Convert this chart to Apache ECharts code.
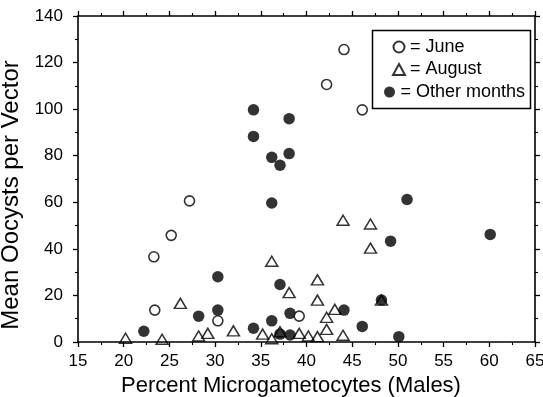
<!DOCTYPE html>
<html>
<head>
<meta charset="utf-8">
<script src="https://cdn.jsdelivr.net/npm/echarts@6/dist/echarts.min.js"></script>
<style>
  html, body { margin: 0; padding: 0; background: #fff; }
  #chart { width: 543px; height: 397px; }
</style>
</head>
<body>
<div id="chart"></div>
<script>
const juneX = [23.3, 23.4, 25.2, 27.2, 30.3, 39.2, 42.2, 44.1, 46.1];
const juneY = [36.6, 13.7, 45.8, 60.6, 9.1, 11.1, 110.6, 125.6, 99.7];

const augustX = [20.2, 24.2, 26.2, 28.2, 29.2, 32.0, 35.2, 36.2, 36.2, 37.1, 38.1, 39.2,
  40.2, 41.2, 41.2, 41.2, 42.2, 42.2, 43.1, 44.0, 44.0, 47.0, 47.0, 48.2];
const augustY = [1.6, 1.2, 16.6, 2.6, 3.7, 4.8, 3.4, 1.4, 34.7, 4.4, 21.2, 3.7,
  2.6, 26.7, 18.0, 2.3, 10.6, 5.4, 14.0, 52.3, 2.9, 50.7, 40.3, 18.0];

const otherX = [22.2, 28.2, 30.3, 30.3, 34.2, 34.2, 34.2, 36.2, 36.2, 36.2, 37.1, 37.1,
  37.1, 38.1, 38.1, 38.2, 38.2, 44.1, 46.1, 48.2, 49.2, 50.1, 51.0, 60.1];
const otherY = [4.6, 11.1, 28.0, 13.7, 99.7, 88.3, 5.9, 79.3, 59.7, 9.1, 75.9, 24.7,
  3.4, 95.9, 80.9, 12.3, 3.0, 13.7, 6.7, 18.0, 43.3, 2.3, 61.2, 46.2];

const xTicks = { min: 15, max: 65, step: 5 };
const yTicks = { min: 0, max: 140, step: 20 };

const pairs = (xs, ys) => xs.map((x, i) => [x, ys[i]]);

const font = 'Liberation Sans, Arial, sans-serif';

const baseAxis = {
  axisLine: { onZero: false, lineStyle: { color: '#000', width: 1.6 } },
  axisTick: { show: true, inside: false, length: 5, lineStyle: { color: '#000', width: 1.3 } },
  minorTick: { show: true, splitNumber: 2, length: 3, lineStyle: { color: '#000', width: 1.1 } },
  splitLine: { show: false },
};

const legendText = { fontFamily: font, fontSize: 18, color: '#000' };

const chart = echarts.init(document.getElementById('chart'), null, { renderer: 'canvas' });

chart.setOption({
  backgroundColor: '#fff',
  animation: false,
  textStyle: { fontFamily: font },
  grid: { left: 78, right: 8, top: 16, bottom: 55, containLabel: false, outerBoundsMode: 'none' },
  legend: [
    {
      orient: 'vertical',
      left: 387,
      top: 33,
      itemWidth: 12,
      itemHeight: 11,
      itemGap: 4.5,
      data: ['June', 'August'],
      formatter: (name) => '= ' + name,
      textStyle: legendText,
    },
    {
      orient: 'vertical',
      left: 379,
      top: 78,
      itemWidth: 12,
      itemHeight: 11,
      data: ['Other months'],
      formatter: (name) => '= ' + name,
      textStyle: legendText,
    },
  ],
  graphic: [
    {
      type: 'rect',
      left: 370,
      top: 28,
      shape: { width: 158, height: 78 },
      style: { fill: 'none', stroke: '#000', lineWidth: 1.5 },
      z: 10,
    },
  ],
  xAxis: [
    {
      ...baseAxis,
      type: 'value',
      position: 'bottom',
      min: xTicks.min,
      max: xTicks.max,
      interval: xTicks.step,
      name: 'Percent Microgametocytes (Males)',
      nameLocation: 'middle',
      nameGap: 25,
      nameTextStyle: { fontFamily: font, fontSize: 22, color: '#000', padding: [0, 31, 0, 0] },
      axisLabel: { fontFamily: font, fontSize: 17, color: '#000', margin: 11 },
    },
    {
      ...baseAxis,
      type: 'value',
      position: 'top',
      min: xTicks.min,
      max: xTicks.max,
      interval: xTicks.step,
      axisLabel: { show: false },
    },
  ],
  yAxis: [
    {
      ...baseAxis,
      type: 'value',
      position: 'left',
      min: yTicks.min,
      max: yTicks.max,
      interval: yTicks.step,
      name: 'Mean Oocysts per Vector',
      nameLocation: 'middle',
      nameGap: 42,
      nameTextStyle: { fontFamily: font, fontSize: 24, color: '#000', padding: [0, 32, 0, 0] },
      axisLabel: { fontFamily: font, fontSize: 17, color: '#000', margin: 15 },
    },
    {
      ...baseAxis,
      type: 'value',
      position: 'right',
      min: yTicks.min,
      max: yTicks.max,
      interval: yTicks.step,
      axisLabel: { show: false },
    },
  ],
  series: [
    {
      name: 'Other months',
      type: 'scatter',
      symbol: 'circle',
      symbolSize: 11.5,
      itemStyle: { color: '#000', borderColor: '#000', borderWidth: 0 },
      data: pairs(otherX, otherY),
      z: 2,
    },
    {
      name: 'August',
      type: 'scatter',
      symbol: 'triangle',
      symbolSize: [12, 10],
      itemStyle: { color: 'rgba(0,0,0,0)', borderColor: '#000', borderWidth: 1.5 },
      data: pairs(augustX, augustY),
      z: 3,
    },
    {
      name: 'June',
      type: 'scatter',
      symbol: 'circle',
      symbolSize: 10,
      itemStyle: { color: '#fff', borderColor: '#000', borderWidth: 1.6 },
      data: pairs(juneX, juneY),
      z: 4,
    },
  ],
});
</script>
</body>
</html>
